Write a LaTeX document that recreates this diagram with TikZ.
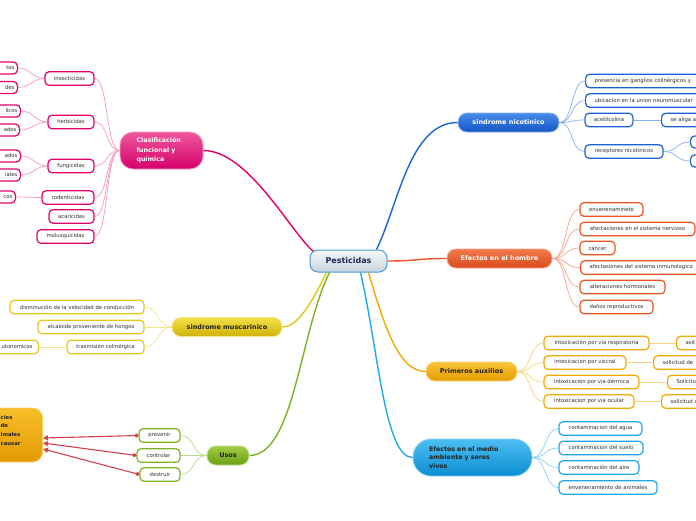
\documentclass[tikz,border=0pt]{standalone}
\usepackage{fontspec}
\setmainfont{DejaVu Sans}
\usetikzlibrary{arrows.meta,backgrounds}
\definecolor{kidtxt}{HTML}{2E2E2E}
\definecolor{pinkB}{HTML}{E2006B}\definecolor{pinkL}{HTML}{F49AC0}\definecolor{pinkT}{HTML}{F0589C}\definecolor{pinkD}{HTML}{D4006A}
\definecolor{yelB}{HTML}{E6C619}\definecolor{yelL}{HTML}{F3E48F}\definecolor{yelT}{HTML}{F2E048}\definecolor{yelD}{HTML}{D0B208}
\definecolor{bluB}{HTML}{1A62D6}\definecolor{bluL}{HTML}{86B2EC}\definecolor{bluT}{HTML}{4A8CEA}\definecolor{bluD}{HTML}{1255C4}
\definecolor{redB}{HTML}{EA5424}\definecolor{redL}{HTML}{F5A58C}\definecolor{redT}{HTML}{F27A4C}\definecolor{redD}{HTML}{DA4A1C}
\definecolor{ambB}{HTML}{F2A900}\definecolor{ambL}{HTML}{F8D27A}\definecolor{ambT}{HTML}{FAC53A}\definecolor{ambD}{HTML}{E49C00}
\definecolor{cyaB}{HTML}{22A8E8}\definecolor{cyaL}{HTML}{8AD0F2}\definecolor{cyaT}{HTML}{4DBEF2}\definecolor{cyaD}{HTML}{0C8ED2}
\definecolor{grnB}{HTML}{7DB31F}\definecolor{grnL}{HTML}{BCDA88}\definecolor{grnT}{HTML}{A2CF45}\definecolor{grnD}{HTML}{6B9E12}
\definecolor{plgT}{HTML}{F7BE2A}\definecolor{plgD}{HTML}{E39A05}
\definecolor{arrRed}{HTML}{D2404E}
\definecolor{cenB}{HTML}{4A9BD8}\definecolor{cenT}{HTML}{F7F9FB}\definecolor{cenD}{HTML}{C6D3DE}\definecolor{cenTxt}{HTML}{1B2A4E}
\definecolor{darkTxt}{HTML}{222222}
\tikzset{
  kid/.style={draw=#1, line width=1.2pt, rounded corners=4pt, fill=white,
    font=\fontsize{5.3}{6.3}\selectfont, text=kidtxt, inner sep=0pt, minimum height=13.5pt},
  kidR/.style={kid=#1, anchor=west, text width=130pt, align=left, inner xsep=9pt},
  kidL/.style={kid=#1, anchor=east, text width=30pt, align=right, inner xsep=3pt, minimum height=12pt},
  mainbox/.style={rounded corners=9pt, minimum height=19pt, inner sep=0pt, line width=0.8pt,
    font=\bfseries\fontsize{6.5}{8}\selectfont},
  trunk/.style={line width=1.4pt, #1},
  twig/.style={line width=0.7pt, #1},
  pesarrow/.style={arrRed, line width=1.1pt, {Circle[length=4pt]}-{Triangle[length=5pt,width=5pt]}}
}
\begin{document}
\begin{tikzpicture}[x=1pt,y=-1pt]
\useasboundingbox (0,0) rectangle (696,520);

% central
\node[rounded corners=8pt, minimum width=77pt, minimum height=22pt, inner sep=0pt,
  draw=cenB, line width=1pt, top color=cenT, bottom color=cenD, text=cenTxt,
  font=\bfseries\fontsize{8}{9}\selectfont] (pes) at (348.5,261) {Pesticidas};

% main branches
\node[mainbox, rounded corners=13pt, minimum width=83pt, minimum height=37pt, draw=pinkL,
  top color=pinkT, bottom color=pinkD, text=white, text width=50pt, align=left,
  font=\bfseries\fontsize{6.3}{9.5}\selectfont] (cla) at (161.5,150.5) {Clasificación\\funcional y\\química};
\node[mainbox, minimum width=101pt, draw=bluL, top color=bluT, bottom color=bluD, text=white] (nic) at (508.5,122.5) {sindrome nicotinico};
\node[mainbox, minimum width=105pt, draw=redL, top color=redT, bottom color=redD, text=white] (hom) at (499.5,258.5) {Efectos en el hombre};
\node[mainbox, minimum width=110pt, draw=yelL, top color=yelT, bottom color=yelD, text=darkTxt] (mus) at (227,327) {sindrome muscarinico};
\node[mainbox, minimum width=91pt, draw=ambL, top color=ambT, bottom color=ambD, text=darkTxt] (pa) at (471.5,371.5) {Primeros auxilios};
\node[mainbox, rounded corners=18pt, minimum width=119pt, minimum height=37pt, draw=cyaL,
  top color=cyaT, bottom color=cyaD, text=darkTxt, text width=87pt, align=left,
  font=\bfseries\fontsize{6.3}{8.5}\selectfont] (amb) at (472.5,457.5) {Efectos en el medio\\ambiente y seres\\vivos};
\node[mainbox, minimum width=42pt, draw=grnL, top color=grnT, bottom color=grnD, text=darkTxt] (uso) at (228,455.5) {Usos};

% orange box at left bottom
\node[rounded corners=10pt, minimum width=90pt, minimum height=54pt, inner sep=0pt, anchor=east,
  draw=plgT!70!white, line width=0.8pt, top color=plgT, bottom color=plgD] (plg) at (43,435) {};
\node[anchor=north west, inner sep=0pt, align=left, text=darkTxt,
  font=\bfseries\fontsize{5.3}{8.7}\selectfont] (plgtxt) at (0.5,415) {cies\\de\\imales\\causar};

% pink children
\node[kid=pinkB, minimum width=49pt] (ins) at (69.5,78.5) {insecticidas};
\node[kid=pinkB, minimum width=46pt] (her) at (71,122) {herbicidas};
\node[kid=pinkB, minimum width=46pt] (fun) at (71,166) {fungicidas};
\node[kid=pinkB, minimum width=52pt] (rod) at (68,197.5) {rodenticidas};
\node[kid=pinkB, minimum width=45pt] (aca) at (71.5,216.5) {acaricidas};
\node[kid=pinkB, minimum width=57pt] (mol) at (65.5,236.5) {molusquicidas};
\node[kidL=pinkB] (g1) at (18,68) {tos};
\node[kidL=pinkB] (g2) at (18,87.5) {des};
\node[kidL=pinkB] (g3) at (21,111) {licos};
\node[kidL=pinkB] (g4) at (20,130) {ados};
\node[kidL=pinkB] (g5) at (21,156) {ados};
\node[kidL=pinkB] (g6) at (21,175) {iales};
\node[kidL=pinkB] (g7) at (16,197) {cos};

% yellow children
\node[kid=yelB, minimum width=134pt] (dis) at (77,307) {disminución de la velocidad de conducción};
\node[kid=yelB, minimum width=106pt] (alc) at (91,327) {alcaloide proveniente de hongos};
\node[kid=yelB, minimum width=77pt] (tra) at (105.5,347) {trasmisión colinérgica};
\node[kidL=yelB, text width=40pt, minimum height=13.5pt, inner xsep=6pt] (aut) at (39,347) {utonomicos};

% blue children
\node[kidR=bluB] (pre) at (585,81) {presencia en ganglios colinérgicos y};
\node[kidR=bluB] (ubi) at (585,100.5) {ubicacion en la union neuromuscular};
\node[kid=bluB, minimum width=48pt] (ace) at (609,120) {acetilcolina};
\node[kidR=bluB] (ali) at (661,120) {se aliga a};
\node[kid=bluB, minimum width=78pt] (rec) at (624,151.5) {receptores nicotinicos};
\node[kid=bluB, anchor=west, minimum width=30pt, minimum height=12pt] (rc1) at (690,142) {};
\node[kid=bluB, anchor=west, minimum width=30pt, minimum height=12pt] (rc2) at (690,161) {};

% red children
\node[kid=redB, minimum width=63pt] (env) at (611.5,209.5) {envenenamineto};
\node[kid=redB, minimum width=115pt] (afn) at (637.5,229) {afectaciones en el sistema nervioso};
\node[kid=redB, minimum width=35pt] (can) at (597.5,248) {cáncer};
\node[kidR=redB] (afi) at (580,267.5) {afectasiones del sistema inmunologico};
\node[kid=redB, minimum width=85pt] (alt) at (622.5,287) {alteraciones hormonales};
\node[kid=redB, minimum width=73pt] (dan) at (616.5,307) {daños reproductivos};

% amber children
\node[kid=ambB, minimum width=105pt] (res) at (596.5,343) {intoxicación por vía respiratoria};
\node[kid=ambB, minimum width=82pt] (vis) at (585,362.5) {intoxicacion por viscral};
\node[kid=ambB, minimum width=95pt] (der) at (591.5,382) {intoxicación por vía dérmica};
\node[kid=ambB, minimum width=90pt] (ocu) at (589,401.5) {intoxicacion por via ocular};
\node[kidR=ambB] (gres) at (676,343) {asit};
\node[kidR=ambB] (gvis) at (653,362.5) {solicitud de};
\node[kidR=ambB] (gder) at (667,382) {Solicitu};
\node[kidR=ambB] (gocu) at (661,401.5) {solicitud d};

% cyan children
\node[kid=cyaB, minimum width=83pt] (agu) at (600.5,428.5) {contaminacion del agua};
\node[kid=cyaB, minimum width=84pt] (sue) at (601,448) {contaminacion del suelo};
\node[kid=cyaB, minimum width=80pt] (air) at (599,467.5) {contaminación del aire};
\node[kid=cyaB, minimum width=98pt] (ani) at (608,487.5) {envenenamiento de animales};

% green children
\node[kid=grnB, minimum width=41pt] (prv) at (159.5,435.5) {prevenir};
\node[kid=grnB, minimum width=43pt] (ctl) at (158.5,455.5) {controlar};
\node[kid=grnB, minimum width=40pt] (dst) at (160,474.5) {destruir};

% red arrows
\draw[pesarrow] (prv.west) -- ([yshift=-3pt]plg.east);
\draw[pesarrow] (ctl.west) -- ([yshift=-8pt]plg.east);
\draw[pesarrow] (dst.west) -- ([yshift=-14pt]plg.east);

\begin{scope}[on background layer]
\fill[white] (0,0) rectangle (696,520);
% trunks
\draw[trunk=pinkB] ([xshift=4pt,yshift=-2pt]pes.north west) .. controls +(-22,-18) and +(45,0) .. (cla.east);
\draw[trunk=bluB] ([xshift=-11pt]pes.north east) .. controls +(22,-45) and +(-48,0) .. (nic.west);
\draw[trunk=redB] (pes.east) .. controls +(30,0) and +(-30,0) .. (hom.west);
\draw[trunk=yelB] ([xshift=17pt]pes.south west) .. controls +(-10,20) and +(18,0) .. (mus.east);
\draw[trunk=grnB] ([xshift=20pt]pes.south west) .. controls +(-30,60) and +(45,0) .. (uso.east);
\draw[trunk=ambB] ([xshift=-19pt]pes.south east) .. controls +(17,58) and +(-26,0) .. (pa.west);
\draw[trunk=cyaB] ([xshift=-27pt]pes.south east) .. controls +(18,78) and +(-28,0) .. (amb.west);
% pink twigs
\foreach \c in {ins,her,fun,rod,aca,mol}
  \draw[twig=pinkL] (cla.west) .. controls +(-14,0) and +(14,0) .. (\c.east);
\foreach \p/\c in {ins/g1,ins/g2,her/g3,her/g4,fun/g5,fun/g6,rod/g7}
  \draw[twig=pinkL] (\p.west) .. controls +(-12,0) and +(12,0) .. (\c.east);
% yellow twigs
\foreach \c in {dis,alc,tra}
  \draw[twig=yelL] (mus.west) .. controls +(-14,0) and +(14,0) .. (\c.east);
\draw[twig=yelL] (tra.west) -- (aut.east);
% blue twigs
\foreach \c in {pre,ubi,ace,rec}
  \draw[twig=bluL] (nic.east) .. controls +(14,0) and +(-14,0) .. (\c.west);
\draw[twig=bluL] (ace.east) -- (ali.west);
\foreach \c in {rc1,rc2}
  \draw[twig=bluL] (rec.east) .. controls +(14,0) and +(-14,0) .. (\c.west);
% red twigs
\foreach \c in {env,afn,can,afi,alt,dan}
  \draw[twig=redL] (hom.east) .. controls +(15,0) and +(-15,0) .. (\c.west);
% amber twigs
\foreach \c in {res,vis,der,ocu}
  \draw[twig=ambL] (pa.east) .. controls +(14,0) and +(-14,0) .. (\c.west);
\foreach \p/\c in {res/gres,vis/gvis,der/gder,ocu/gocu}
  \draw[twig=ambL] (\p.east) -- (\c.west);
% cyan twigs
\foreach \c in {agu,sue,air,ani}
  \draw[twig=cyaL] (amb.east) .. controls +(14,0) and +(-14,0) .. (\c.west);
% green twigs
\foreach \c in {prv,ctl,dst}
  \draw[twig=grnL] (uso.west) .. controls +(-14,0) and +(14,0) .. (\c.east);
\end{scope}
\end{tikzpicture}
\end{document}
